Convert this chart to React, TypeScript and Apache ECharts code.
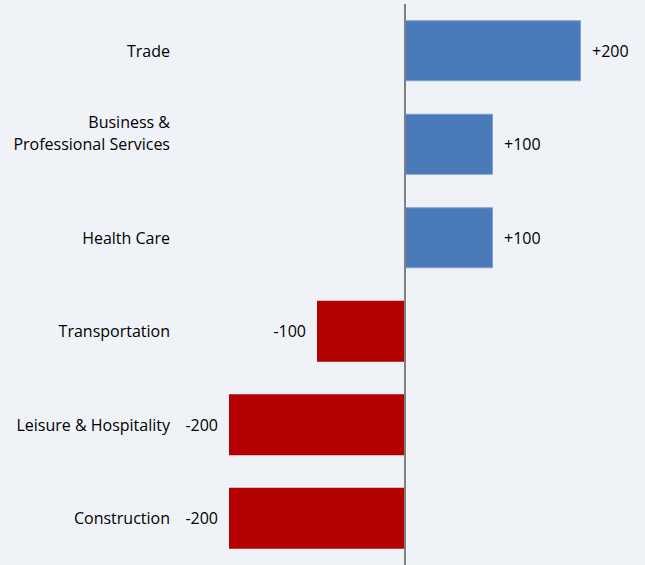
import React, { useEffect, useRef } from "react";
import * as echarts from "echarts";

const categories = [
  "Trade",
  "Business &\nProfessional Services\n",
  "Health Care",
  "Transportation",
  "Leisure & Hospitality",
  "Construction",
];
const values = [200, 100, 100, -100, -200, -200];
const xMin = -200;
const xMax = 250;

export default function App() {
  const ref = useRef<HTMLDivElement>(null);
  useEffect(() => {
    if (!ref.current) return;
    const chart = echarts.init(ref.current, undefined, { renderer: "svg" });
    const font = "'Open Sans', sans-serif";
    chart.setOption({
      animation: false,
      backgroundColor: "#eff3f8",
      textStyle: { fontFamily: font },
      grid: { left: 229, right: 20, top: 4, bottom: 0, containLabel: false },
      xAxis: {
        type: "value",
        min: xMin,
        max: xMax,
        show: false,
        splitLine: { show: false },
      },
      yAxis: {
        type: "category",
        inverse: true,
        data: categories,
        axisLine: { show: false },
        axisTick: { show: false },
        splitLine: { show: false },
        axisLabel: {
          margin: 59,
          fontSize: 16,
          color: "#000",
          fontFamily: font,
          lineHeight: 22,
          align: "right",
        },
      },
      series: [
        {
          type: "bar",
          barWidth: 61,
          data: values.map((v) => ({
            value: v,
            itemStyle:
              v >= 0
                ? { color: "#4a7aba", borderColor: "#7f9fd0", borderWidth: 1 }
                : { color: "#b40000" },
            label: {
              show: true,
              position: v >= 0 ? "right" : "left",
              distance: 11,
              formatter: (v > 0 ? "+" : "") + v,
              fontSize: 16,
              color: "#000",
              fontFamily: font,
            },
          })),
          markLine: {
            silent: true,
            symbol: "none",
            label: { show: false },
            lineStyle: { color: "#808080", width: 2, type: "solid" },
            data: [{ xAxis: 0 }],
          },
        },
      ],
    });
    return () => chart.dispose();
  }, []);
  return (
    <div
      ref={ref}
      style={{ position: "absolute", left: 0, top: 0, width: 645, height: 565 }}
    />
  );
}
